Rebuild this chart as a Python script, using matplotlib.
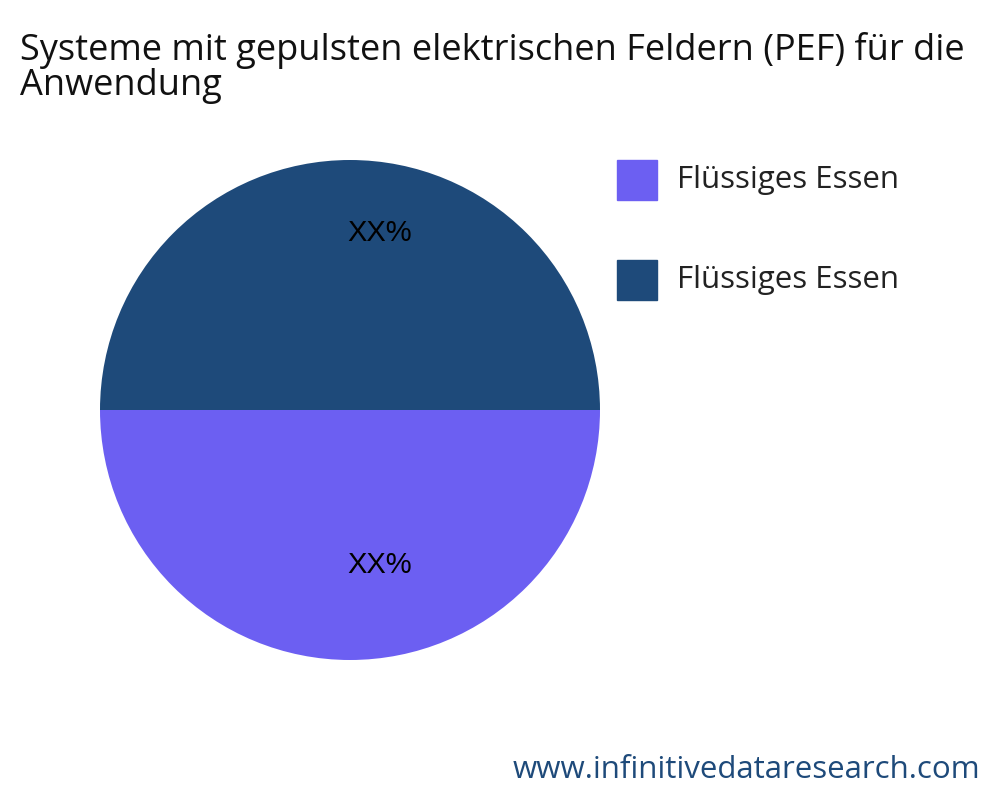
import matplotlib
matplotlib.use("Agg")
import matplotlib.pyplot as plt
from matplotlib.patches import Rectangle
import numpy as np

plt.rcParams['font.family'] = ['Open Sans', 'DejaVu Sans']

labels = ["Flüssiges Essen", "Flüssiges Essen"]
values = [50, 50]
texts = ["XX%", "XX%"]
colors = ["#6C5FF2", "#1E4A7A"]

fig = plt.figure(figsize=(10, 8), dpi=100)
ax = fig.add_axes([0.1, 0.175, 0.5, 0.625])
wedges, _ = ax.pie(values, colors=colors, startangle=0, counterclock=False,
                   radius=1.0, wedgeprops=dict(linewidth=0))
ax.set_xlim(-1, 1); ax.set_ylim(-1, 1)
ax.set_aspect('equal')
for w, t in zip(wedges, texts):
    ang = np.deg2rad((w.theta1 + w.theta2) / 2)
    r = 0.62 if np.sin(ang) < 0 else 0.71
    ax.text(0.12, r * np.sin(ang), t, ha='center', va='center',
            fontsize=21, color='black', family=['Liberation Sans', 'DejaVu Sans'])

fig.text(0.02, 0.915, "Systeme mit gepulsten elektrischen Feldern (PEF) für die\nAnwendung",
         fontsize=26, ha='left', va='center', linespacing=0.98, color='#111111')

for i, (lab, c) in enumerate(zip(labels, colors)):
    y = 800 - 180 - i * 100
    fig.patches.append(Rectangle((617 / 1000, (y - 20) / 800), 40 / 1000, 40 / 800,
                                 transform=fig.transFigure, color=c))
    fig.text(677 / 1000, y / 800, lab, fontsize=22.5, va='center', ha='left', color='#222222')

fig.text(0.98, 30 / 800, "www.infinitivedataresearch.com", fontsize=22.5,
         ha='right', va='center', color='#1E4A7A')

fig.savefig("out.png", dpi=100)
